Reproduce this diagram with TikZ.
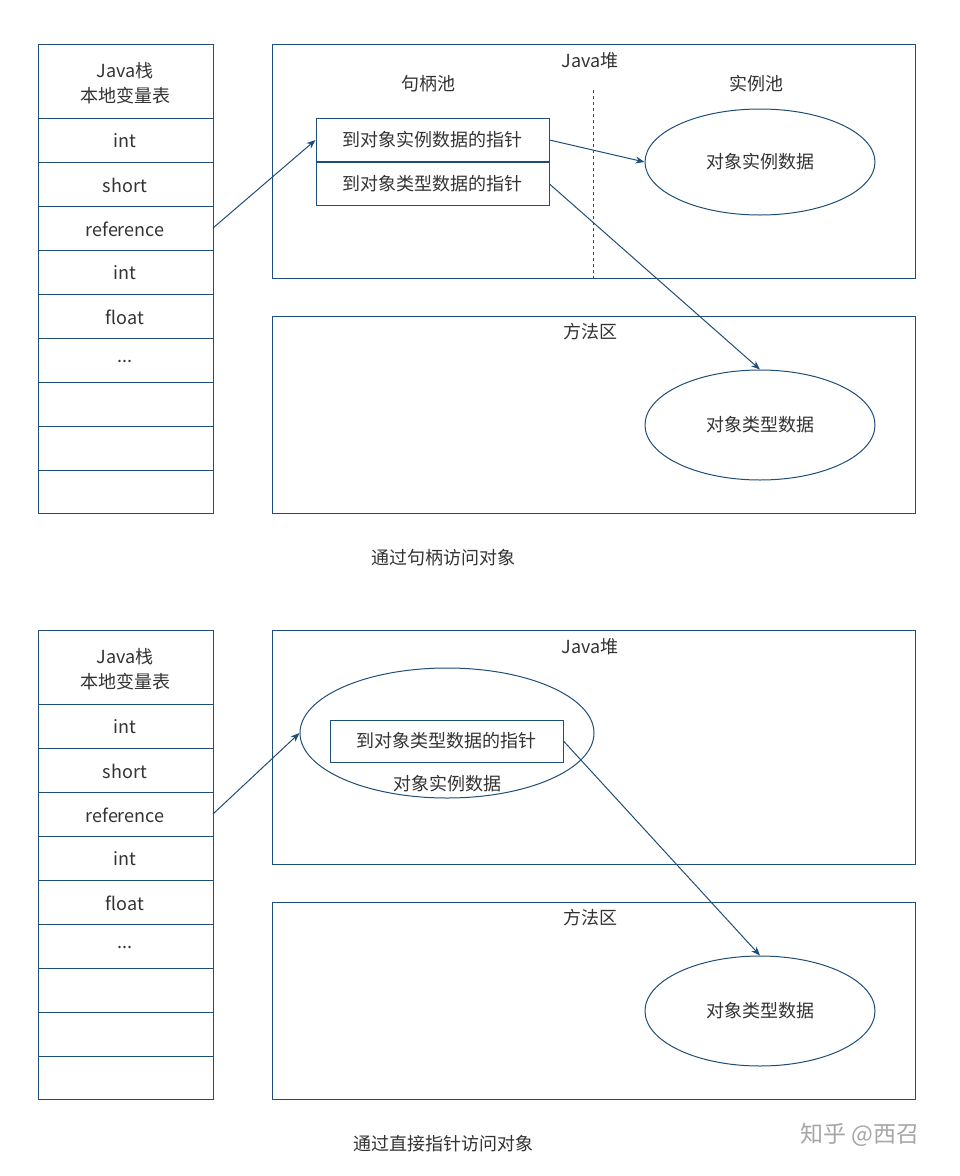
\documentclass[tikz,border=0pt]{standalone}
\usepackage{fontspec}
\setmainfont{Noto Sans CJK SC}
\usetikzlibrary{shapes.geometric,arrows.meta}
\definecolor{ln}{HTML}{1F4E79}
\definecolor{tx}{HTML}{333333}
\newcommand\threedots{...}
\begin{document}
\begin{tikzpicture}[x=1pt,y=-1pt,font=\fontsize{18}{21}\selectfont,
  bx/.style={draw=ln,line width=1pt},
  lbl/.style={text=tx,inner sep=0},
  arr/.style={draw=ln,line width=1pt,-{Stealth[length=9pt,width=7pt]}},
  ell/.style={draw=ln,line width=1pt,ellipse,minimum width=230pt,minimum height=106pt,text=tx}]
\fill[white] (0,0) rectangle (960,1176);
\foreach \o/\cap in {0/通过句柄访问对象,586/通过直接指针访问对象}{
  \draw[bx] (38,44+\o) rectangle (213,513+\o);
  \node[lbl,align=center,font=\fontsize{18}{25}\selectfont] at (125,83+\o) {Java栈\\本地变量表};
  \foreach \y in {118,162,206,250,294,338,382,426,470}{\draw[bx] (38,\y+\o)--(213,\y+\o);}
  \foreach \t [count=\i] in {int,short,reference,int,float,\threedots}{
    \node[lbl] at (125,97+44*\i+\o) {\t};}
  \draw[bx] (272,44+\o) rectangle (915,278+\o);
  \node[lbl] at (590,61+\o) {Java堆};
  \draw[bx] (272,316+\o) rectangle (915,513+\o);
  \node[lbl] at (590,332+\o) {方法区};
  \node[lbl] at (443,558+\o) {\cap};
}
\node[ell] (e1) at (760,162) {对象实例数据};
\node[ell,minimum height=110pt] (e2) at (760,425) {对象类型数据};
\node[ell,minimum height=110pt] (e4) at (760,1011) {对象类型数据};
\draw[ln,dashed,line width=1pt] (593,90)--(593,278);
\node[lbl] at (428,84) {句柄池};
\node[lbl] at (756,84) {实例池};
\node[bx,minimum width=233pt,minimum height=43pt,text=tx] (p1) at (432.5,140) {到对象实例数据的指针};
\node[bx,minimum width=233pt,minimum height=43pt,text=tx] (p2) at (432.5,184) {到对象类型数据的指针};
\coordinate (r1) at (213,228);
\draw[arr] (r1)--(p1.west);
\draw[arr] (p1.east)--(e1.west);
\draw[arr] (p2.east)--(e2.north);
\node[ell,minimum width=294pt,minimum height=130pt] (e3) at (447,733) {};
\node[bx,minimum width=233pt,minimum height=42pt,text=tx] (p3) at (446.5,741) {到对象类型数据的指针};
\node[lbl] at (447,784) {对象实例数据};
\coordinate (r2) at (213,814);
\draw[arr] (r2)--(e3.west);
\draw[arr] (p3.east)--(e4.north);
\node[text=gray!70,font=\fontsize{23}{25}\selectfont] at (860,1135) {知乎 @西召};
\end{tikzpicture}
\end{document}
